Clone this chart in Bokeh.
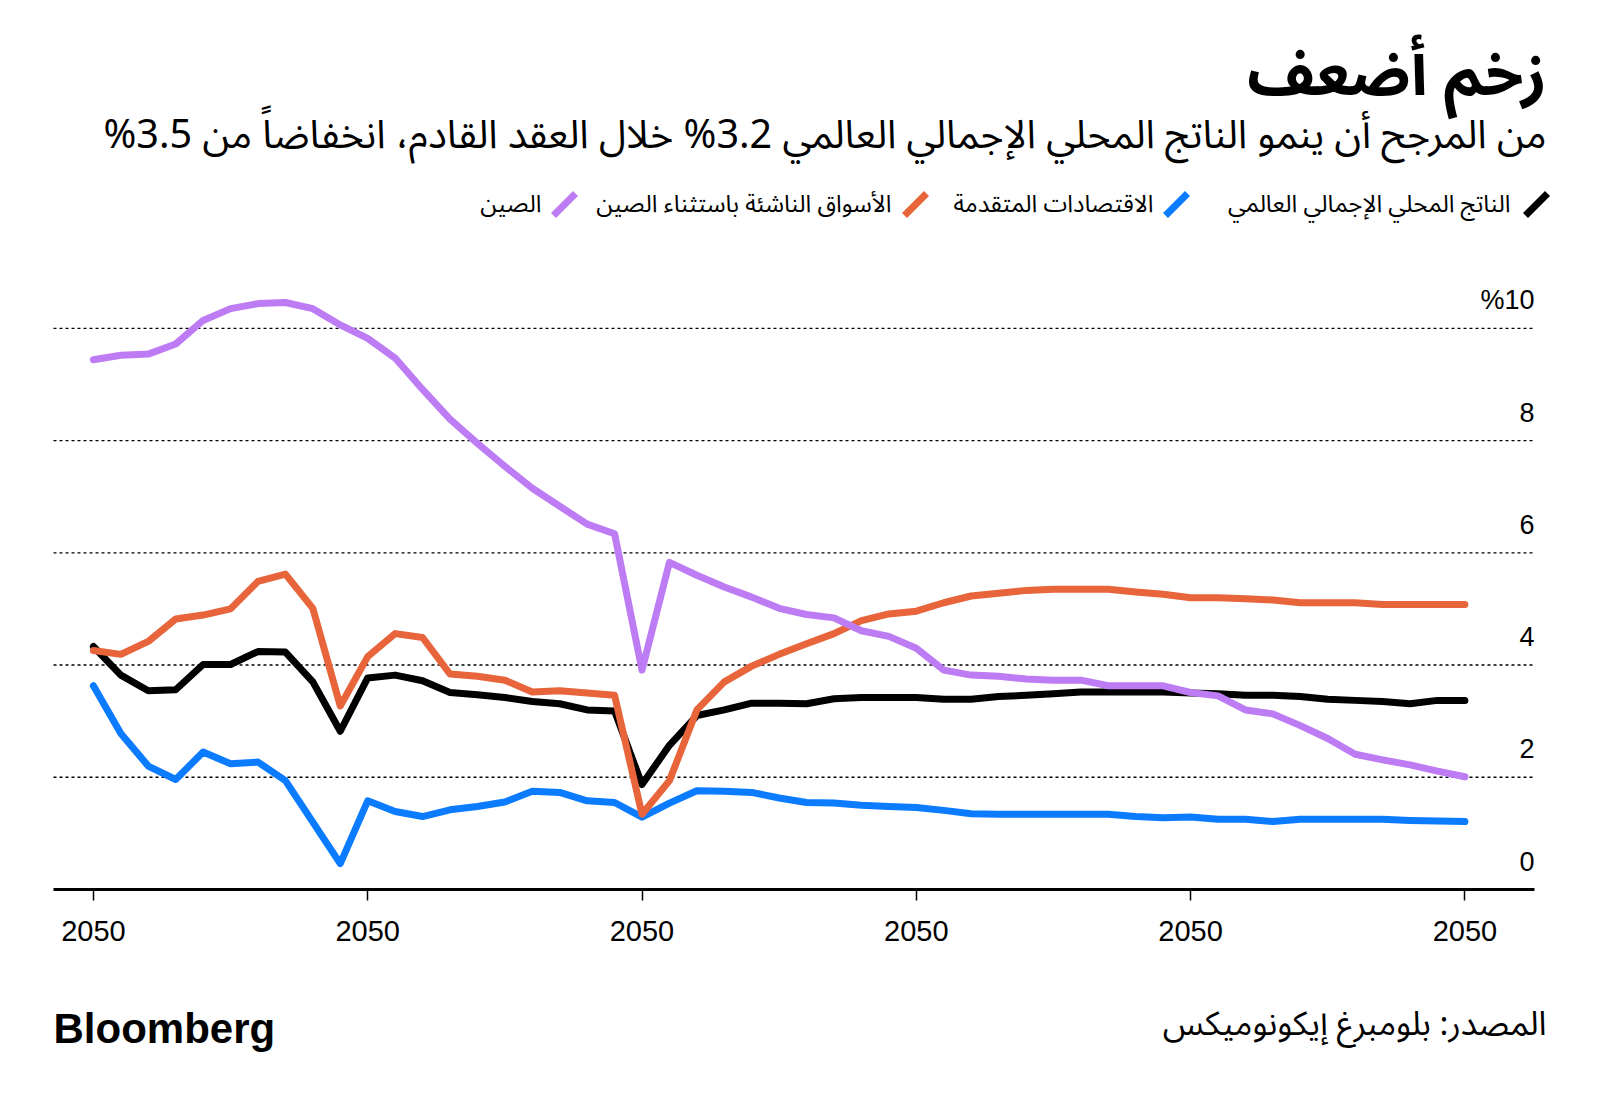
from bokeh.plotting import figure
from bokeh.layouts import column
from bokeh.models import Range1d, FixedTicker, Grid, LabelSet, ColumnDataSource
from bokeh.core.properties import value
from bokeh.embed import file_html
from bokeh.resources import INLINE

# ---------------- data ----------------
YEARS = list(range(2000, 2051))

WORLD = [4.33, 3.82, 3.54, 3.56, 4.01, 4.01, 4.24, 4.23, 3.70, 2.82,
         3.77, 3.82, 3.72, 3.51, 3.47, 3.42, 3.35, 3.31, 3.20, 3.18,
         1.87, 2.57, 3.10, 3.20, 3.32, 3.32, 3.31, 3.40, 3.42, 3.42,
         3.42, 3.39, 3.39, 3.44, 3.46, 3.49, 3.52, 3.52, 3.52, 3.52,
         3.50, 3.49, 3.46, 3.46, 3.44, 3.39, 3.37, 3.35, 3.31, 3.37,
         3.37]

ADVANCED = [3.63, 2.78, 2.20, 1.96, 2.45, 2.24, 2.27, 1.94, 1.20, 0.46,
            1.58, 1.39, 1.30, 1.42, 1.48, 1.56, 1.75, 1.73, 1.58, 1.55,
            1.29, 1.54, 1.76, 1.75, 1.73, 1.63, 1.55, 1.54, 1.50, 1.48,
            1.46, 1.41, 1.35, 1.34, 1.34, 1.34, 1.34, 1.34, 1.30, 1.28,
            1.29, 1.25, 1.25, 1.21, 1.25, 1.25, 1.25, 1.25, 1.23, 1.22,
            1.21]

EM_EX_CHINA = [4.26, 4.19, 4.42, 4.82, 4.89, 5.00, 5.49, 5.62, 5.01, 3.27,
               4.15, 4.56, 4.49, 3.84, 3.80, 3.73, 3.52, 3.54, 3.50, 3.46,
               1.34, 1.94, 3.20, 3.70, 3.98, 4.19, 4.38, 4.56, 4.79, 4.91,
               4.96, 5.11, 5.23, 5.28, 5.33, 5.35, 5.35, 5.35, 5.30, 5.26,
               5.20, 5.20, 5.18, 5.16, 5.11, 5.11, 5.11, 5.08, 5.08, 5.08,
               5.08]

CHINA = [9.44, 9.52, 9.54, 9.72, 10.14, 10.35, 10.44, 10.46, 10.35, 10.06,
         9.82, 9.47, 8.91, 8.38, 7.95, 7.54, 7.15, 6.83, 6.51, 6.34,
         3.91, 5.83, 5.60, 5.39, 5.21, 5.01, 4.90, 4.84, 4.61, 4.51,
         4.30, 3.91, 3.82, 3.80, 3.75, 3.73, 3.73, 3.63, 3.63, 3.63,
         3.51, 3.45, 3.20, 3.13, 2.92, 2.69, 2.41, 2.31, 2.22, 2.11,
         2.01]

SERIES_NAMES = ["الناتج المحلي الإجمالي العالمي",
                "الاقتصادات المتقدمة",
                "الأسواق الناشئة باستثناء الصين",
                "الصين"]
SERIES_COLORS = ["#000000", "#0b7bff", "#e8643b", "#bd7cf4"]

X_TICKS = [2000, 2010, 2020, 2030, 2040, 2050]
X_TICK_LABELS = ["2050", "2050", "2050", "2050", "2050", "2050"]
Y_TICKS = [0, 2, 4, 6, 8, 10]
Y_TICK_LABELS = ["0", "2", "4", "6", "8", "%10"]
GRID_TICKS = [2, 4, 6, 8, 10]

TITLE = "زخم أضعف"
SUBTITLE = "من المرجح أن ينمو الناتج المحلي الإجمالي العالمي 3.2% خلال العقد القادم، انخفاضاً من 3.5%"
SOURCE = "المصدر: بلومبرغ إيكونوميكس"
BRAND = "Bloomberg"

# ---------------- layout (page pixels) ----------------
W = 1600
HEAD_H, MAIN_H, FOOT_H = 250, 730, 120
AX_L, AX_R, FRAME_T, FRAME_B = 53, 1534, 280, 889
TICK0_PX, PX_PER_YEAR, PX_PER_UNIT = 92.9, 27.43, 56.12


def year_at(px):
    return 2000 + (px - TICK0_PX) / PX_PER_YEAR


Y1 = (FRAME_B - FRAME_T) / PX_PER_UNIT

FONT_AR = "'Noto Sans Arabic', 'DejaVu Sans', sans-serif"
FONT_LAT = "'Liberation Sans', Arial, sans-serif"


def blank(height, top):
    f = figure(width=W, height=height, x_range=Range1d(0, W),
               y_range=Range1d(top + height, top), output_backend="svg",
               toolbar_location=None, x_axis_location=None, y_axis_location=None,
               min_border=0, min_border_left=0, min_border_right=0,
               min_border_top=0, min_border_bottom=0,
               outline_line_color=None, title=None,
               background_fill_color="white", border_fill_color="white")
    f.xgrid.visible = False
    f.ygrid.visible = False
    return f


# ---------------- header ----------------
head = blank(HEAD_H, 0)
head.text(x=[1546], y=[75], text=[TITLE], text_align="right",
          text_baseline="alphabetic", text_font=value(FONT_AR),
          text_font_size="62px", text_font_style="bold", text_color="black")
head.text(x=[1546], y=[135], text=[SUBTITLE + "\u200f"], text_align="right",
          text_baseline="alphabetic", text_font=value(FONT_AR),
          text_font_size="39.5px", text_color="black")

LEG_SWATCH_CX = [1536, 1176, 915, 564]
LEG_TEXT_RIGHT = [1510, 1153, 891, 541]
LEG_CY, LEG_BASE = 204, 204
head.segment(x0=[c - 11 for c in LEG_SWATCH_CX], y0=[LEG_CY + 11] * 4,
             x1=[c + 11 for c in LEG_SWATCH_CX], y1=[LEG_CY - 11] * 4,
             line_color=SERIES_COLORS, line_width=7, line_cap="butt")
head.text(x=LEG_TEXT_RIGHT, y=[LEG_BASE] * 4, text=SERIES_NAMES,
          text_align="right", text_baseline="alphabetic",
          text_font=value(FONT_AR), text_font_size="24px", text_color="black")

# ---------------- main chart ----------------
p = figure(width=W, height=MAIN_H, x_range=Range1d(year_at(0), year_at(W)),
           y_range=Range1d(0, Y1),
           output_backend="svg", toolbar_location=None, y_axis_location=None,
           min_border_left=0, min_border_right=0,
           min_border_top=FRAME_T - HEAD_H,
           min_border_bottom=HEAD_H + MAIN_H - FRAME_B,
           outline_line_color=None, background_fill_color="white",
           border_fill_color="white", title=None)

for r in list(p.center):
    if isinstance(r, Grid):
        r.visible = False

XL, XR = year_at(AX_L), year_at(AX_R)
p.segment(x0=[XL] * len(GRID_TICKS), y0=GRID_TICKS,
          x1=[XR] * len(GRID_TICKS), y1=GRID_TICKS,
          line_color="black", line_dash="3 3", line_width=1.3)

ax = p.xaxis[0]
ax.ticker = FixedTicker(ticks=X_TICKS)
ax.bounds = (XL, XR)
ax.major_label_overrides = {t: l for t, l in zip(X_TICKS, X_TICK_LABELS)}
ax.axis_line_width = 3
ax.axis_line_color = "black"
ax.major_tick_in = 0
ax.major_tick_out = 11
ax.major_tick_line_width = 1.5
ax.major_tick_line_color = "black"
ax.minor_tick_line_color = None
ax.major_label_standoff = 20
ax.major_label_text_font = FONT_LAT
ax.major_label_text_font_size = "29px"
ax.major_label_text_color = "black"

series = [ADVANCED, WORLD, EM_EX_CHINA, CHINA]
colors = [SERIES_COLORS[1], SERIES_COLORS[0], SERIES_COLORS[2], SERIES_COLORS[3]]
for vals, col in zip(series, colors):
    p.line(YEARS, vals, line_color=col, line_width=7,
           line_cap="round", line_join="round")

ysrc = ColumnDataSource(dict(y=Y_TICKS, text=Y_TICK_LABELS))
p.add_layout(LabelSet(x=XR, y="y", text="text", source=ysrc,
                      text_align="right", text_baseline="alphabetic",
                      y_offset=19, text_font=value(FONT_LAT),
                      text_font_size="27px", text_color="black"))

# ---------------- footer ----------------
foot = blank(FOOT_H, HEAD_H + MAIN_H)
foot.text(x=[1546], y=[1024], text=[SOURCE], text_align="right",
          text_baseline="alphabetic", text_font=value(FONT_AR),
          text_font_size="33.5px", text_color="black")
foot.text(x=[53], y=[1028], text=[BRAND], text_align="left",
          text_baseline="alphabetic", text_font=value(FONT_LAT),
          text_font_size="42px", text_font_style="bold", text_color="black")

layout = column(head, p, foot, spacing=0)
open("out.html", "w").write(file_html(layout, INLINE))
